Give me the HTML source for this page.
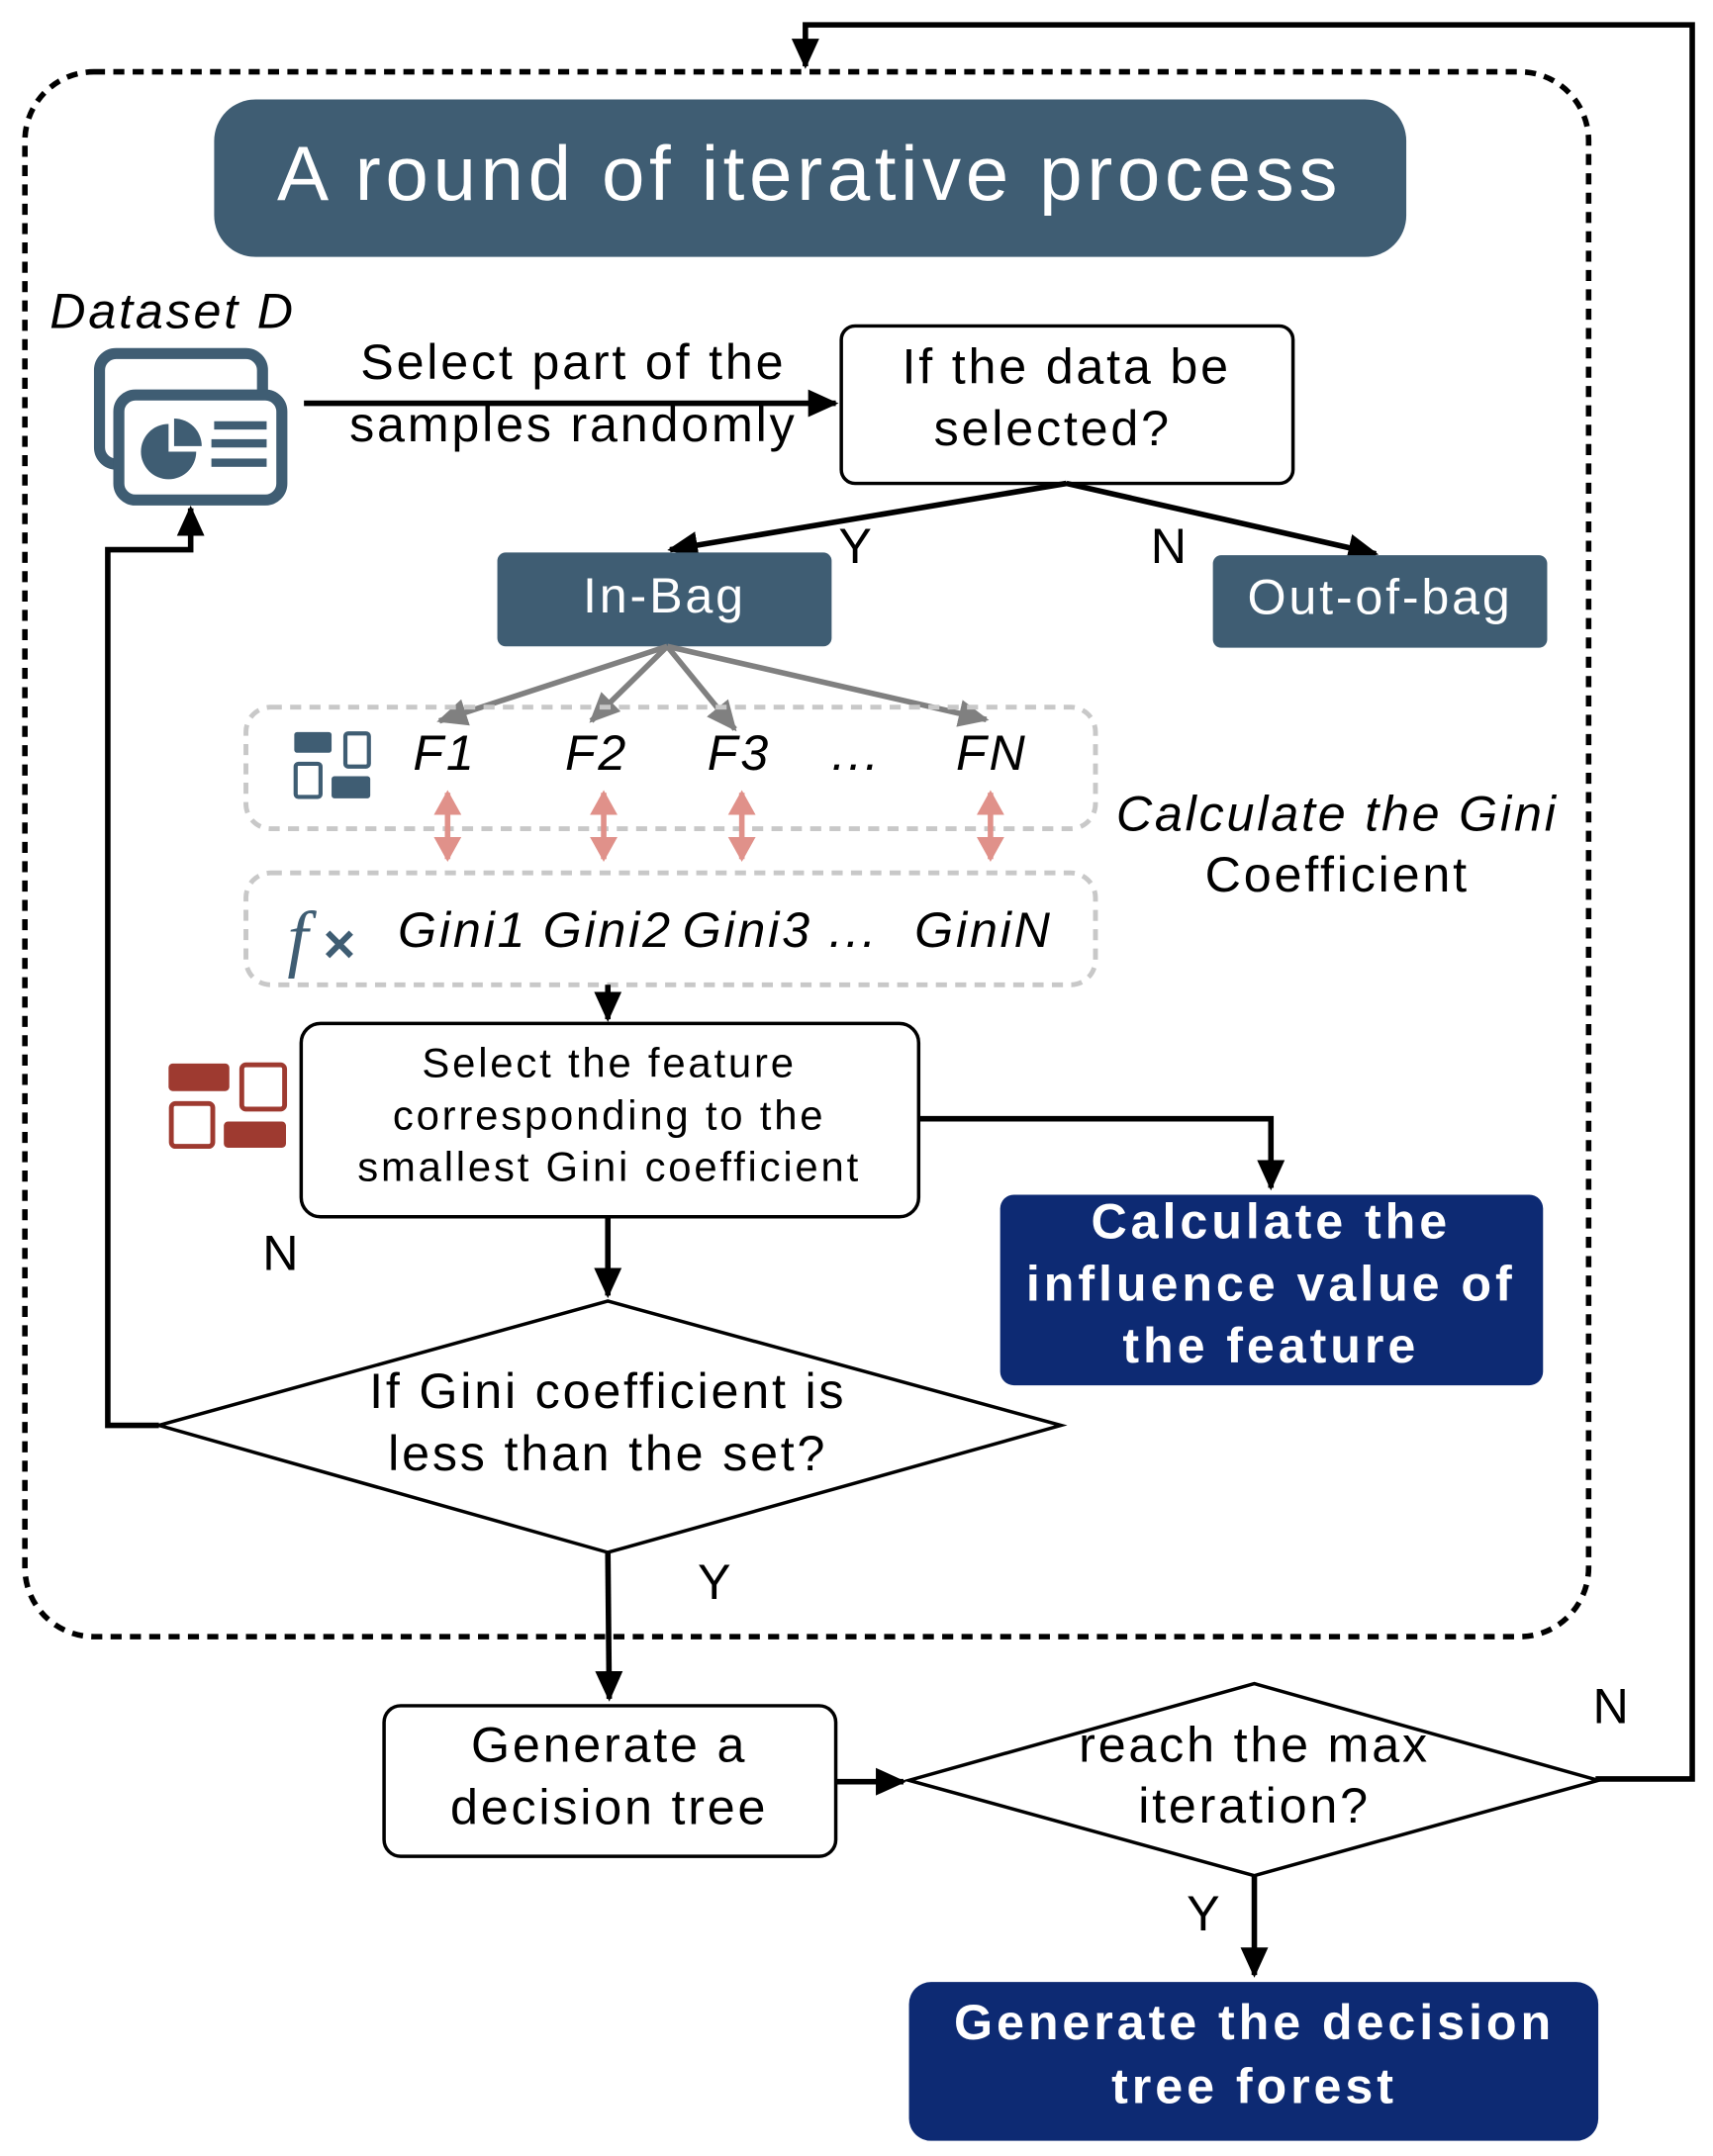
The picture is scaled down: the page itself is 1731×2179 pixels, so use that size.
<!DOCTYPE html>
<html><head><meta charset="utf-8"><style>html,body{margin:0;padding:0;background:#fff}svg{display:block}</style></head><body>
<svg width="1731" height="2179" viewBox="0 0 1240 1561" xmlns="http://www.w3.org/2000/svg" font-family="'Liberation Sans', sans-serif" letter-spacing="2">
<defs>
<marker id="a" markerWidth="6" markerHeight="6" refX="5" refY="3" orient="auto" markerUnits="strokeWidth"><path d="M0,0.5 L5.5,3 L0,5.5 Z" fill="#000"/></marker>
<marker id="g" markerWidth="6" markerHeight="6" refX="5" refY="3" orient="auto" markerUnits="strokeWidth"><path d="M0,0.5 L5.5,3 L0,5.5 Z" fill="#808080"/></marker>
<marker id="p" markerWidth="5" markerHeight="5" refX="4" refY="2.5" orient="auto-start-reverse" markerUnits="strokeWidth"><path d="M0,0 L4.5,2.5 L0,5 Z" fill="#e0918a"/></marker>
</defs>
<rect x="18" y="52" width="1132" height="1133" rx="50" fill="none" stroke="#000" stroke-width="4" stroke-dasharray="8,6"/>
<polyline points="1155,1288 1225,1288 1225,18 583,18 583,48" fill="none" stroke="#000" stroke-width="4" marker-end="url(#a)"/>
<rect x="155" y="72" width="863" height="114" rx="30" fill="#3f5d73"/>
<text x="586" y="130" font-size="56" fill="#fff" text-anchor="middle" dominant-baseline="middle" letter-spacing="3.3">A round of iterative process</text>
<text x="36" y="228" font-size="36" font-style="italic" dominant-baseline="middle">Dataset D</text>
<g fill="none" stroke="#3f5d73" stroke-width="8">
<rect x="72" y="256" width="118" height="80" rx="12"/>
<rect x="86" y="286" width="118" height="76" rx="12" fill="#fff"/>
</g>
<path d="M122,307 A20,20 0 1 0 142,327 L122,327 Z" fill="#3f5d73"/><path d="M126,303 A20,20 0 0 1 146,323 L126,323 Z" fill="#3f5d73"/>
<g fill="#3f5d73"><rect x="155" y="305" width="38" height="6"/><rect x="153" y="318" width="40" height="6"/><rect x="153" y="332" width="40" height="6"/></g>
<line x1="220" y1="292" x2="605" y2="292" stroke="#000" stroke-width="4" marker-end="url(#a)"/>
<g font-size="36" text-anchor="middle" dominant-baseline="middle">
<text x="415" y="265">Select part of the</text><text x="415" y="310">samples randomly</text>
</g>
<rect x="609" y="236" width="327" height="114" rx="10" fill="#fff" stroke="#000" stroke-width="2.5"/>
<g font-size="36" text-anchor="middle" dominant-baseline="middle">
<text x="772" y="268">If the data be</text><text x="762" y="313">selected?</text>
<text x="620" y="398">Y</text><text x="847" y="398">N</text>
</g>
<line x1="772" y1="350" x2="485" y2="398" stroke="#000" stroke-width="4" marker-end="url(#a)"/>
<line x1="772" y1="350" x2="996" y2="401" stroke="#000" stroke-width="4" marker-end="url(#a)"/>
<rect x="360" y="400" width="242" height="68" rx="6" fill="#3f5d73"/>
<rect x="878" y="402" width="242" height="67" rx="6" fill="#3f5d73"/>
<text x="481" y="434" font-size="36" fill="#fff" text-anchor="middle" dominant-baseline="middle">In-Bag</text>
<text x="999" y="435" font-size="36" fill="#fff" text-anchor="middle" dominant-baseline="middle">Out-of-bag</text>
<g stroke="#808080" stroke-width="4" marker-end="url(#g)">
<line x1="483" y1="468" x2="318" y2="522"/><line x1="483" y1="468" x2="428" y2="522"/><line x1="483" y1="468" x2="532" y2="528"/><line x1="483" y1="468" x2="714" y2="521"/>
</g>
<rect x="178" y="512" width="615" height="88" rx="18" fill="none" stroke="#c8c8c8" stroke-width="3.5" stroke-dasharray="8,6"/>
<rect x="178" y="632" width="615" height="81" rx="18" fill="none" stroke="#c8c8c8" stroke-width="3.5" stroke-dasharray="8,6"/>
<g fill="#3f5d73"><rect x="213" y="530" width="27" height="15" rx="2"/><rect x="240" y="562" width="28" height="16" rx="2"/></g>
<g fill="none" stroke="#3f5d73" stroke-width="3"><rect x="250" y="531" width="17" height="24" rx="2"/><rect x="214" y="553" width="18" height="24" rx="2"/></g>
<g font-size="36" font-style="italic" text-anchor="middle" dominant-baseline="middle">
<text x="322" y="548">F1</text><text x="432" y="548">F2</text><text x="535" y="548">F3</text><text x="620" y="548">...</text><text x="718" y="548">FN</text>
<text x="968" y="592">Calculate the Gini</text>
<text x="335" y="676">Gini1</text><text x="440" y="676">Gini2</text><text x="541" y="676">Gini3</text><text x="618" y="676">...</text><text x="712" y="676">GiniN</text>
</g>
<text x="968" y="636" font-size="36" text-anchor="middle" dominant-baseline="middle">Coefficient</text>
<g stroke="#e0918a" stroke-width="4" marker-start="url(#p)" marker-end="url(#p)">
<line x1="324" y1="574" x2="324" y2="622"/><line x1="437" y1="574" x2="437" y2="622"/><line x1="537" y1="574" x2="537" y2="622"/><line x1="717" y1="574" x2="717" y2="622"/>
</g>
<text x="208" y="697" font-size="54" font-style="italic" font-family="'Liberation Serif', serif" fill="#3f5d73">f</text>
<text x="234" y="697" font-size="40" font-weight="bold" fill="#3f5d73">×</text>
<line x1="440" y1="713" x2="440" y2="738" stroke="#000" stroke-width="4" marker-end="url(#a)"/>
<rect x="218" y="741" width="447" height="140" rx="14" fill="#fff" stroke="#000" stroke-width="2.5"/>
<g font-size="30" text-anchor="middle" dominant-baseline="middle">
<text x="441" y="772">Select the feature</text><text x="441" y="810">corresponding to the</text><text x="441" y="847">smallest Gini coefficient</text>
</g>
<g fill="#9e3a30"><rect x="122" y="770" width="44" height="20" rx="3"/><rect x="162" y="812" width="45" height="19" rx="3"/></g>
<g fill="none" stroke="#9e3a30" stroke-width="3.5"><rect x="175" y="771" width="31" height="32" rx="3"/><rect x="124" y="799" width="30" height="31" rx="3"/></g>
<polyline points="665,810 920,810 920,860" fill="none" stroke="#000" stroke-width="4" marker-end="url(#a)"/>
<rect x="724" y="865" width="393" height="138" rx="10" fill="#0d2a73"/>
<g font-size="36" font-weight="bold" fill="#fff" text-anchor="middle" dominant-baseline="middle" letter-spacing="2.8">
<text x="920" y="887">Calculate the</text><text x="920" y="932">influence value of</text><text x="920" y="977">the feature</text>
</g>
<text x="204" y="910" font-size="36" text-anchor="middle" dominant-baseline="middle">N</text>
<line x1="440" y1="881" x2="440" y2="938" stroke="#000" stroke-width="4" marker-end="url(#a)"/>
<polygon points="440,942 768,1032 440,1124 115,1032" fill="#fff" stroke="#000" stroke-width="2.5"/>
<g font-size="36" text-anchor="middle" dominant-baseline="middle">
<text x="440" y="1010">If Gini coefficient is</text><text x="440" y="1055">less than the set?</text>
<text x="518" y="1148">Y</text>
</g>
<polyline points="115,1032 78,1032 78,398 138,398 138,368" fill="none" stroke="#000" stroke-width="4" marker-end="url(#a)"/>
<line x1="440" y1="1124" x2="441" y2="1230" stroke="#000" stroke-width="4" marker-end="url(#a)"/>
<rect x="278" y="1235" width="327" height="109" rx="12" fill="#fff" stroke="#000" stroke-width="2.5"/>
<line x1="605" y1="1290" x2="654" y2="1290" stroke="#000" stroke-width="4" marker-end="url(#a)"/>
<polygon points="908,1219 1157,1289 908,1358 658,1289" fill="#fff" stroke="#000" stroke-width="2.5"/>
<g font-size="36" text-anchor="middle" dominant-baseline="middle">
<text x="441" y="1266">Generate a</text><text x="441" y="1311">decision tree</text>
<text x="908" y="1266">reach the max</text><text x="908" y="1310">iteration?</text>
<text x="1167" y="1238">N</text><text x="872" y="1388">Y</text>
</g>
<line x1="908" y1="1358" x2="908" y2="1430" stroke="#000" stroke-width="4" marker-end="url(#a)"/>
<rect x="658" y="1435" width="499" height="115" rx="16" fill="#0d2a73"/>
<g font-size="36" font-weight="bold" fill="#fff" text-anchor="middle" dominant-baseline="middle" letter-spacing="2.8">
<text x="908" y="1467">Generate the decision</text><text x="908" y="1513">tree forest</text>
</g>
</svg>
</body></html>
